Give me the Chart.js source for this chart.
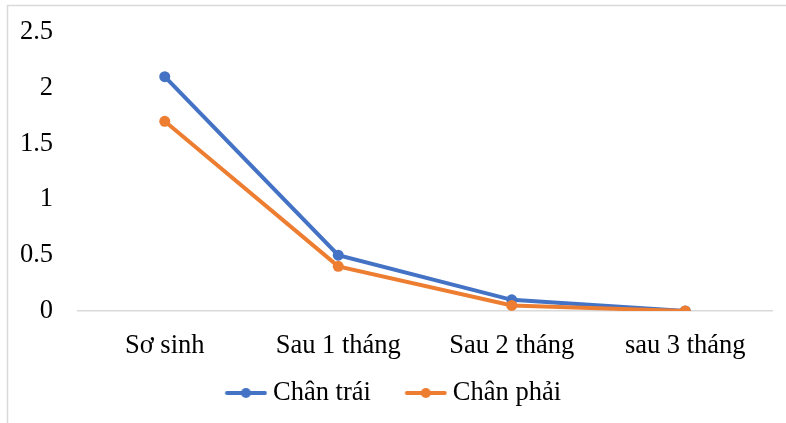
<!DOCTYPE html>
<html>
<head>
<meta charset="utf-8">
<script src="https://cdn.jsdelivr.net/npm/chart.js@4/dist/chart.umd.min.js"></script>
<style>
html,body{margin:0;padding:0;background:#fff;}
#wrap{position:relative;width:786px;height:423px;}
</style>
</head>
<body>
<div id="wrap"><canvas id="c" width="786" height="423"></canvas></div>
<script>
const categories = ["Sơ sinh", "Sau 1 tháng", "Sau 2 tháng", "sau 3 tháng"];
const seriesNames = ["Chân trái", "Chân phải"];
const chanTrai = [2.1, 0.5, 0.1, 0];
const chanPhai = [1.7, 0.4, 0.05, 0];
const yTicks = [0, 0.5, 1, 1.5, 2, 2.5];
const colors = ["#4472C4", "#ED7D31"];

const FONT = "'Liberation Serif', 'Times New Roman', serif";
const FS = 26.5;
const BW = 58.75;

function legendIcon(color) {
  const W = 74, H = 14;
  const cv = document.createElement('canvas');
  cv.width = W; cv.height = H;
  const g = cv.getContext('2d');
  const x0 = 31.6, x1 = 73.6;
  g.strokeStyle = color; g.lineWidth = 4; g.lineCap = 'round';
  g.beginPath(); g.moveTo(x0 + 2, H / 2); g.lineTo(x1 - 2, H / 2); g.stroke();
  g.fillStyle = color;
  g.beginPath(); g.arc((x0 + x1) / 2, H / 2, 5, 0, Math.PI * 2); g.fill();
  return cv;
}
const icons = colors.map(legendIcon);

const borderPlugin = {
  id: 'outerBorder',
  afterLayout(chart) {
    if (chart.legend) { chart.legend.left -= 5; chart.legend.right -= 5; }
  },
  beforeDraw(chart) {
    const ctx = chart.ctx;
    ctx.save();
    ctx.fillStyle = '#fff';
    ctx.fillRect(0, 0, chart.width, chart.height);
    ctx.strokeStyle = '#d9d9d9';
    ctx.lineWidth = 1.5;
    ctx.strokeRect(7.5, 5.5, 900, 600);
    ctx.restore();
  }
};

new Chart(document.getElementById('c'), {
  type: 'line',
  data: {
    labels: categories,
    datasets: [
      { label: seriesNames[0], data: chanTrai, order: 1, borderColor: colors[0], backgroundColor: colors[0],
        borderWidth: 4, pointRadius: 5.5, pointHoverRadius: 5.5, pointBackgroundColor: colors[0], pointBorderWidth: 0, tension: 0 },
      { label: seriesNames[1], data: chanPhai, order: 0, borderColor: colors[1], backgroundColor: colors[1],
        borderWidth: 4, pointRadius: 5.5, pointHoverRadius: 5.5, pointBackgroundColor: colors[1], pointBorderWidth: 0, tension: 0 }
    ]
  },
  options: {
    responsive: false,
    animation: false,
    devicePixelRatio: 1,
    layout: { padding: { left: 0, right: 14, top: 32, bottom: 6.75 } },
    plugins: {
      tooltip: { enabled: false },
      legend: {
        position: 'bottom',
        labels: {
          usePointStyle: true,
          pointStyleWidth: BW,
          padding: 10,
          color: '#000',
          font: { family: FONT, size: FS },
          generateLabels(chart) {
            return chart.data.datasets.map((ds, i) => ({
              text: ds.label, pointStyle: icons[i], fillStyle: colors[i], strokeStyle: colors[i],
              lineWidth: 0, hidden: false, datasetIndex: i, fontColor: '#000'
            }));
          }
        }
      }
    },
    scales: {
      x: {
        offset: true,
        grid: { display: false, drawTicks: false, tickLength: 0 },
        border: { display: true, color: '#d9d9d9', width: 1.5 },
        ticks: { color: '#000', font: { family: FONT, size: FS }, padding: 19, maxRotation: 0, autoSkip: false },
        afterFit(s) { s.height = 58.75; }
      },
      y: {
        min: 0, max: 2.5,
        afterBuildTicks(s) { s.ticks = yTicks.map(v => ({ value: v })); },
        grid: { display: false, drawTicks: false, tickLength: 0 },
        border: { display: false },
        ticks: { color: '#000', font: { family: FONT, size: FS }, padding: 25, callback: v => String(v) },
        afterFit(s) { s.width = 78; s.paddingTop = 0; s.paddingBottom = 0; }
      }
    }
  },
  plugins: [borderPlugin]
});
</script>
</body>
</html>
